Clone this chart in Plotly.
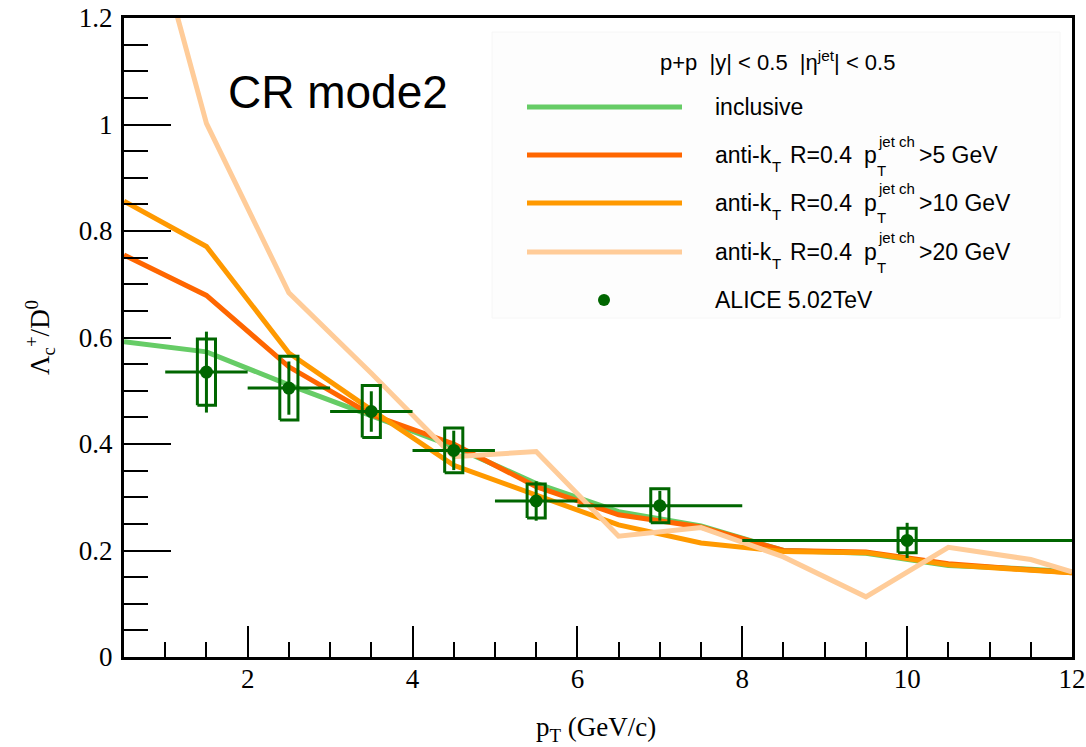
import plotly.graph_objects as go

# ---- model curves: Lambda_c+/D0 vs pT (PYTHIA CR mode2) ----
pt_model = [0.5, 1.5, 2.5, 3.5, 4.5, 5.5, 6.5, 7.5, 8.5, 9.5, 10.5, 11.5, 12.0]
ratio_inclusive = [0.592, 0.573, 0.511, 0.454, 0.395, 0.326, 0.273, 0.246, 0.200, 0.195, 0.172, 0.165, 0.160]
ratio_jet5 = [0.755, 0.679, 0.545, 0.455, 0.400, 0.320, 0.267, 0.244, 0.200, 0.197, 0.175, 0.165, 0.158]
ratio_jet10 = [0.856, 0.771, 0.571, 0.464, 0.360, 0.305, 0.248, 0.214, 0.198, 0.196, 0.173, 0.163, 0.158]
ratio_jet20 = [1.571, 1.002, 0.684, 0.533, 0.376, 0.386, 0.227, 0.243, 0.188, 0.113, 0.206, 0.183, 0.160]

# ---- ALICE 5.02 TeV data ----
pt_data = [1.5, 2.5, 3.5, 4.5, 5.5, 7.0, 10.0]
pt_halfwidth = [0.5, 0.5, 0.5, 0.5, 0.5, 1.0, 2.0]
ratio_data = [0.535, 0.505, 0.461, 0.388, 0.293, 0.284, 0.219]
stat_err = [0.076, 0.050, 0.038, 0.037, 0.037, 0.028, 0.033]
syst_err = [0.062, 0.060, 0.049, 0.042, 0.032, 0.032, 0.023]

# ---- axis ticks ----
y_tickvals = [0, 0.2, 0.4, 0.6, 0.8, 1.0, 1.2]
y_ticktext = ["0", "0.2", "0.4", "0.6", "0.8", "1", "1.2"]
x_tickvals = [2, 4, 6, 8, 10, 12]

C_INCL = "#66CC66"
C_J5 = "#FF6600"
C_J10 = "#FF9900"
C_J20 = "#FFCC99"
C_DATA = "#006600"

W, H = 1086, 747
L, R, T, B = 124, 1072, 18, 657


def px(x):
    return (x - L) / (R - L)


def py(y):
    return (B - y) / (B - T)


fig = go.Figure()

curves = [
    (ratio_inclusive, C_INCL),
    (ratio_jet5, C_J5),
    (ratio_jet10, C_J10),
    (ratio_jet20, C_J20),
]
for vals, col in curves:
    fig.add_trace(go.Scatter(x=pt_model, y=vals, mode="lines",
                             line=dict(color=col, width=5), showlegend=False,
                             hoverinfo="skip"))

# systematic boxes around each data point
box_hw = 0.11
for xc, yc, s in zip(pt_data, ratio_data, syst_err):
    fig.add_trace(go.Scatter(
        x=[xc - box_hw, xc + box_hw, xc + box_hw, xc - box_hw, xc - box_hw],
        y=[yc - s, yc - s, yc + s, yc + s, yc - s],
        mode="lines", line=dict(color=C_DATA, width=3), showlegend=False,
        hoverinfo="skip"))

fig.add_trace(go.Scatter(
    x=pt_data, y=ratio_data, mode="markers",
    marker=dict(color=C_DATA, size=13),
    error_x=dict(type="data", array=pt_halfwidth, color=C_DATA, thickness=3, width=0),
    error_y=dict(type="data", array=stat_err, color=C_DATA, thickness=3, width=0),
    showlegend=False, cliponaxis=True))

sans = "Liberation Sans, Arial, sans-serif"
serif = "Liberation Serif, Times New Roman, serif"

shapes = []
annotations = []

# legend panel
shapes.append(dict(type="rect", xref="paper", yref="paper",
                   x0=px(492), x1=px(1060), y0=py(318), y1=py(32),
                   fillcolor="#fdfdfd", line=dict(color="#f6f6f6", width=1), layer="below"))

annotations.append(dict(xref="paper", yref="paper", x=px(777), y=py(61),
                        text="p+p  |y| < 0.5  |η<sup>jet</sup>| < 0.5",
                        showarrow=False, xanchor="center", yanchor="middle",
                        font=dict(family=sans, size=22, color="black")))

rows = [
    (107, C_INCL, None),
    (155, C_J5, ">5 GeV"),
    (203, C_J10, ">10 GeV"),
    (252, C_J20, ">20 GeV"),
]
for yrow, col, cut in rows:
    shapes.append(dict(type="line", xref="paper", yref="paper",
                       x0=px(527), x1=px(682), y0=py(yrow), y1=py(yrow),
                       line=dict(color=col, width=5)))
    if cut is None:
        annotations.append(dict(xref="paper", yref="paper", x=px(713), y=py(yrow),
                                text="inclusive", showarrow=False,
                                xanchor="left", yanchor="middle",
                                font=dict(family=sans, size=23, color="black")))
        continue
    annotations.append(dict(xref="paper", yref="paper", x=px(713), y=py(yrow),
                            text="anti-k", showarrow=False,
                            xanchor="left", yanchor="middle",
                            font=dict(family=sans, size=23, color="black")))
    annotations.append(dict(xref="paper", yref="paper", x=px(770), y=py(yrow + 11),
                            text="T", showarrow=False,
                            xanchor="left", yanchor="middle",
                            font=dict(family=sans, size=15, color="black")))
    annotations.append(dict(xref="paper", yref="paper", x=px(788), y=py(yrow),
                            text="R=0.4", showarrow=False,
                            xanchor="left", yanchor="middle",
                            font=dict(family=sans, size=23, color="black")))
    annotations.append(dict(xref="paper", yref="paper", x=px(862), y=py(yrow),
                            text="p", showarrow=False,
                            xanchor="left", yanchor="middle",
                            font=dict(family=sans, size=23, color="black")))
    annotations.append(dict(xref="paper", yref="paper", x=px(876), y=py(yrow - 14),
                            text="jet ch", showarrow=False,
                            xanchor="left", yanchor="middle",
                            font=dict(family=sans, size=15, color="black")))
    annotations.append(dict(xref="paper", yref="paper", x=px(875), y=py(yrow + 15),
                            text="T", showarrow=False,
                            xanchor="left", yanchor="middle",
                            font=dict(family=sans, size=15, color="black")))
    annotations.append(dict(xref="paper", yref="paper", x=px(917), y=py(yrow),
                            text=cut, showarrow=False,
                            xanchor="left", yanchor="middle",
                            font=dict(family=sans, size=23, color="black")))

# data marker sample
r = 6
shapes.append(dict(type="circle", xref="paper", yref="paper",
                   x0=px(604 - r), x1=px(604 + r), y0=py(300 + r), y1=py(300 - r),
                   fillcolor=C_DATA, line=dict(color=C_DATA, width=0)))
annotations.append(dict(xref="paper", yref="paper", x=px(713), y=py(300),
                        text="ALICE 5.02TeV", showarrow=False,
                        xanchor="left", yanchor="middle",
                        font=dict(family=sans, size=23, color="black")))

# model label
annotations.append(dict(xref="paper", yref="paper", x=px(226), y=py(92),
                        text="CR mode2", showarrow=False,
                        xanchor="left", yanchor="middle",
                        font=dict(family=sans, size=46, color="black")))

# axis titles
annotations.append(dict(xref="paper", yref="paper", x=px(596), y=py(729),
                        text="p<sub>T</sub> (GeV/c)", showarrow=False,
                        xanchor="center", yanchor="middle",
                        font=dict(family=serif, size=27, color="black")))
annotations.append(dict(xref="paper", yref="paper", x=px(40), y=py(338),
                        text="Λ<sub>c</sub><sup>+</sup>/D<sup>0</sup>", showarrow=False,
                        textangle=-90, xanchor="center", yanchor="middle",
                        font=dict(family=serif, size=27, color="black")))

fig.update_layout(
    width=W, height=H,
    margin=dict(l=L, r=W - R, t=T, b=H - B, pad=0, autoexpand=False),
    paper_bgcolor="white", plot_bgcolor="white",
    showlegend=False,
    shapes=shapes, annotations=annotations,
    xaxis=dict(range=[0.5, 12], tickvals=x_tickvals, ticks="inside", ticklen=31,
               tickwidth=2, tickcolor="black", showline=True, linewidth=3,
               linecolor="black", mirror=True, showgrid=False, zeroline=False,
               automargin=False,
               tickfont=dict(family=serif, size=27, color="black"),
               ticklabelstandoff=-4,
               minor=dict(dtick=0.5, tick0=0, ticks="inside", ticklen=15,
                          tickwidth=2, tickcolor="black", showgrid=False)),
    yaxis=dict(range=[0, 1.2], tickvals=y_tickvals, ticktext=y_ticktext,
               ticks="inside", ticklen=47, tickwidth=2, tickcolor="black",
               showline=True, linewidth=3, linecolor="black", mirror=True,
               showgrid=False, zeroline=False, automargin=False,
               tickfont=dict(family=serif, size=27, color="black"),
               ticklabelstandoff=3,
               minor=dict(dtick=0.05, tick0=0, ticks="inside", ticklen=24,
                          tickwidth=2, tickcolor="black", showgrid=False)),
)

fig.write_html("out.html")
